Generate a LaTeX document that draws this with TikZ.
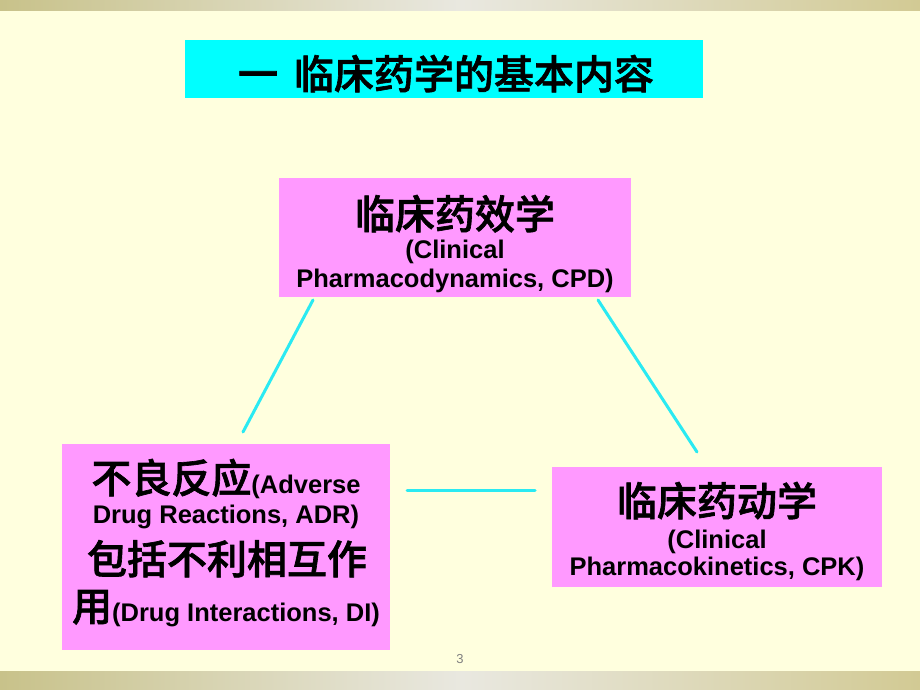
\documentclass[tikz,border=0pt]{standalone}
\usepackage{fontspec}
\setmainfont{Liberation Sans}
\newfontfamily\cjk{Noto Sans CJK SC Medium}[FakeBold=1.6]
\definecolor{bgyel}{HTML}{FFFFDE}
\definecolor{barL}{HTML}{C8C28A}
\definecolor{barM}{HTML}{E9E8E0}
\definecolor{barR}{HTML}{D2CA94}
\definecolor{boxpink}{HTML}{FF99FF}
\definecolor{titcyan}{HTML}{00FFFF}
\definecolor{linecyan}{HTML}{2AEAF2}
\newcommand{\zhbig}[1]{{\cjk\fontsize{40}{40}\selectfont #1}}
\newcommand{\enfont}{\bfseries\fontsize{25.5}{25.5}\selectfont}
\begin{document}
\begin{tikzpicture}[x=1pt,y=-1pt,
  pinkbox/.style={draw=none,fill=boxpink,inner sep=0,outer sep=0},
  txt/.style={anchor=base,inner sep=0,outer sep=0},
  link/.style={draw=linecyan,line width=3pt,line cap=round}]
\useasboundingbox (0,0) rectangle (920,690);
\fill[bgyel] (0,0) rectangle (920,690);
% top and bottom bars
\shade[left color=barL,right color=barM] (0,0) rectangle (462,11);
\shade[left color=barM,right color=barR] (462,0) rectangle (920,11);
\shade[left color=barL,right color=barM] (0,671) rectangle (462,690);
\shade[left color=barM,right color=barR] (462,671) rectangle (920,690);
% title
\node[fill=titcyan,inner sep=0,minimum width=518pt,minimum height=58pt] (title) at (444,69.5) {};
\node[txt] (titletext) at (446,89) {\zhbig{一\hspace{16pt}临床药学的基本内容}};
% CPD box
\node[pinkbox,minimum width=352pt,minimum height=119pt] (cpd) at (455,237.5) {};
\node[txt] (cpd1) at (455,229) {\zhbig{临床药效学}};
\node[txt] (cpd2) at (455,258) {\enfont (Clinical};
\node[txt] (cpd3) at (455,287) {\enfont Pharmacodynamics, CPD)};
% ADR box
\node[pinkbox,minimum width=328pt,minimum height=206pt] (adr) at (226,547) {};
\node[txt] (adr1) at (226,493) {\zhbig{不良反应}\enfont(Adverse};
\node[txt] (adr2) at (226,523) {\enfont Drug Reactions, ADR)};
\node[txt] (adr3) at (227,574) {\zhbig{包括不利相互作}};
\node[txt] (adr4) at (226,621) {\zhbig{用}\enfont(Drug Interactions, DI)};
% CPK box
\node[pinkbox,minimum width=330pt,minimum height=120pt] (cpk) at (717,527) {};
\node[txt] (cpk1) at (717,516) {\zhbig{临床药动学}};
\node[txt] (cpk2) at (717,548) {\enfont (Clinical};
\node[txt] (cpk3) at (717,575) {\enfont Pharmacokinetics, CPK)};
% connectors
\coordinate (c1a) at (313,300);
\coordinate (c1b) at (243,432);
\coordinate (c2a) at (598,300);
\coordinate (c2b) at (697,452);
\coordinate (c3a) at (407,490);
\coordinate (c3b) at (535,490);
\draw[link] (c1a) -- (c1b);
\draw[link] (c2a) -- (c2b);
\draw[link] (c3a) -- (c3b);
% page number
\node[txt,text=gray,font=\fontsize{13}{13}\selectfont] (pnum) at (460,663) {3};
\end{tikzpicture}
\end{document}
